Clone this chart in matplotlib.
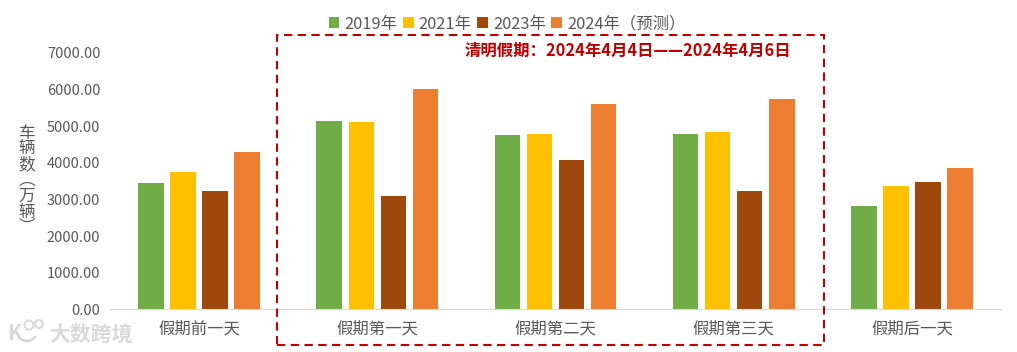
"""Holiday vehicle counts around Qingming, grouped by day and year."""
import matplotlib
matplotlib.use('Agg')
import matplotlib.pyplot as plt
from matplotlib.patches import Arc, Rectangle, Circle
from matplotlib.transforms import IdentityTransform
import numpy as np

plt.rcParams['font.family'] = ['Noto Sans CJK SC', 'DejaVu Sans']

days = ['假期前一天', '假期第一天', '假期第二天', '假期第三天', '假期后一天']
years = ['2019年', '2021年', '2023年', '2024年（预测）']
values_2019 = [3450, 5145, 4760, 4790, 2820]
values_2021 = [3750, 5120, 4790, 4845, 3370]
values_2023 = [3230, 3095, 4080, 3230, 3480]
values_2024 = [4300, 6020, 5600, 5745, 3850]
colors = ['#70AD47', '#FFC000', '#9E480E', '#ED7D31']
y_ticks = [0, 1000, 2000, 3000, 4000, 5000, 6000, 7000]
y_title = '车辆数︵万辆︶'

W, H = 1017, 352
figure = plt.figure(figsize=(W / 100, H / 100), dpi=100)
axes = figure.add_axes([110 / W, 1 - 309.3 / H, 891 / W, 256.3 / H])

# four bars per day, centered on each category
x = np.arange(len(days))
pitch = 0.18
series = [values_2019, values_2021, values_2023, values_2024]
for i, values in enumerate(series):
    axes.bar(x + (i - 1.5) * pitch, values, width=0.143, color=colors[i],
             label=years[i])

axes.set_xlim(-0.5, 4.5)
axes.set_ylim(0, 7000)
axes.set_xticks(x, days)
axes.set_yticks(y_ticks, [f'{tick:.2f}' for tick in y_ticks])
axes.tick_params(length=0, labelcolor='#595959')
axes.tick_params(axis='x', pad=8, labelsize=11.8)
axes.tick_params(axis='y', pad=7, labelsize=10.5)
for side in ['top', 'right', 'left']:
    axes.spines[side].set_visible(False)
axes.spines['bottom'].set_color('#D9D9D9')

figure.legend(loc='center', bbox_to_anchor=(507 / W, 1 - 24 / H), ncol=4,
              frameon=False, fontsize=11.8, labelcolor='#595959',
              handlelength=0.65, handleheight=0.65, handletextpad=0.3,
              columnspacing=0.35, borderpad=0)

# stacked axis title with upright characters
for i, char in enumerate(y_title):
    figure.text(27 / W, 1 - (133 + i * 15.8) / H, char, ha='center',
                va='center', fontsize=12, color='#595959')

# dashed box around the holiday days
figure.add_artist(Rectangle((277 / W, 1 - 345 / H), 547 / W, 310 / H,
                            transform=figure.transFigure, fill=False,
                            edgecolor='#C00000', linewidth=1.5,
                            linestyle=(0, (4, 2.6))))
figure.text(627.5 / W, 1 - 51 / H, '清明假期：2024年4月4日——2024年4月6日',
            ha='center', va='center', fontsize=11.8, color='#C00000',
            fontweight='bold')

# watermark
figure.text(49 / W, 1 - 334 / H, '大数跨境', ha='left', va='center',
            fontsize=15, color='#DADADA', fontweight='bold')
figure.text(14 / W, 1 - 334 / H, 'K', ha='center', va='center',
            fontsize=15, color='#DADADA', fontweight='bold')
for cx, cy, r in [(29, 325, 4.5), (39, 324, 4)]:
    figure.add_artist(Circle((cx, H - cy), r, transform=IdentityTransform(),
                             fill=False, edgecolor='#DADADA', linewidth=1.5))
figure.add_artist(Arc((27, H - 331), 20, 20, theta1=190, theta2=330,
                      transform=IdentityTransform(), edgecolor='#DADADA',
                      linewidth=2))

figure.savefig('out.png', dpi=100)
